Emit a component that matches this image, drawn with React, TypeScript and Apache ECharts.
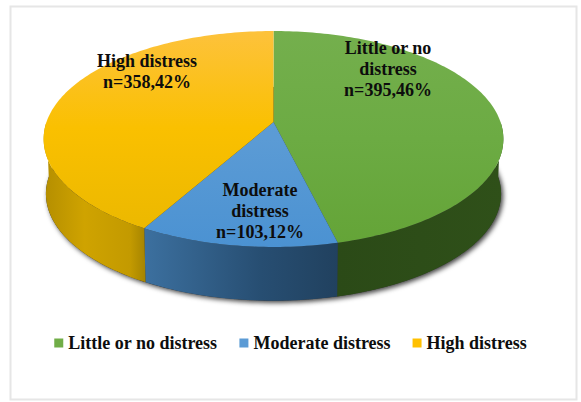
import React, { useEffect, useRef } from "react";
import * as echarts from "echarts";

// Survey responses per distress band
const categories = ["Little or no distress", "Moderate distress", "High distress"];
const counts = [395, 103, 358];
const percents = [46, 12, 42];
const wrappedNames = ["Little or no\ndistress", "Moderate\ndistress", "High distress"];

const WIDTH = 581;
const HEIGHT = 402;
const FONT = '"Liberation Serif", "Times New Roman", serif';
const FONT_SIZE = 18;

// Perspective model of the disc: centre of the pie, radius, foreshortening
const CX = 273.5;
const CY = 122;
const RADIUS = 227;
const DEPTH_SCALE = 105.3;
const PERSPECTIVE = 0.1574;
const THICKNESS = 55;
const BOTTOM_SCALE = 0.99;
const FACE_TOP = 31;
const FACE_BOTTOM = 247;

const legendColors = ["#70ad47", "#5b9bd5", "#ffc000"];
const topStops = [
  [
    [0, "#74af4d"],
    [0.5, "#6cab43"],
    [1, "#64a437"],
  ],
  [
    [0, "#5f9dd6"],
    [0.5, "#5b9bd5"],
    [1, "#4b92d2"],
  ],
  [
    [0, "#fdc23c"],
    [0.45, "#fac000"],
    [1, "#e9b700"],
  ],
];
const sideStops = [
  [
    [0, "#2b4a17"],
    [1, "#2f5019"],
  ],
  [
    [0, "#3c709f"],
    [0.6, "#274e72"],
    [1, "#21415f"],
  ],
  [
    [0, "#a58400"],
    [0.15, "#c39a00"],
    [0.6, "#cfa300"],
    [1, "#b48e00"],
  ],
];
const labelCentres = [
  [388, 69],
  [260, 211],
  [147, 71],
];

const total = counts.reduce((a, b) => a + b, 0);

// Angle is measured clockwise from twelve o'clock
function project(angle: number, radius: number, drop: number): number[] {
  const u = Math.sin(angle);
  const t = -Math.cos(angle);
  const w = 1 - PERSPECTIVE * t;
  return [CX + (radius * RADIUS * u) / w, CY + drop + (radius * DEPTH_SCALE * t) / w];
}

function arc(from: number, to: number, radius: number, drop: number): number[][] {
  const steps = Math.max(2, Math.ceil(Math.abs(to - from) / 0.02));
  const pts: number[][] = [];
  for (let i = 0; i <= steps; i++) {
    pts.push(project(from + ((to - from) * i) / steps, radius, drop));
  }
  return pts;
}

function sliceBounds(index: number): number[] {
  let before = 0;
  for (let i = 0; i < index; i++) before += counts[i];
  const start = (before / total) * Math.PI * 2;
  return [start, start + (counts[index] / total) * Math.PI * 2];
}

function gradientStops(stops: any[]) {
  return stops.map(([offset, color]) => ({ offset, color }));
}

function renderSlice(index: number) {
  const [start, end] = sliceBounds(index);
  const children: any[] = [];
  // The wall is only visible on the half of the disc facing the viewer
  const wallFrom = Math.max(start, Math.PI / 2);
  const wallTo = Math.min(end, (Math.PI * 3) / 2);
  if (wallTo > wallFrom) {
    const upper = arc(wallFrom, wallTo, 1, 0);
    const lower = arc(wallTo, wallFrom, BOTTOM_SCALE, THICKNESS);
    // Shading runs around the disc from the outer rim towards the viewer
    const reversed = index === 2;
    children.push({
      type: "polygon",
      shape: { points: upper.concat(lower) },
      style: {
        fill: new echarts.graphic.LinearGradient(
          reversed ? 1 : 0,
          0,
          reversed ? 0 : 1,
          0,
          gradientStops(sideStops[index]) as any
        ),
      },
      silent: true,
    });
  }
  const rim = arc(start, end, 1, 0);
  const ys = rim.map((p) => p[1]).concat(CY);
  const yMin = Math.min(...ys);
  const yMax = Math.max(...ys);
  children.push({
    type: "polygon",
    shape: { points: [[CX, CY]].concat(rim) },
    style: {
      fill: new echarts.graphic.LinearGradient(
        0,
        (FACE_TOP - yMin) / (yMax - yMin),
        0,
        (FACE_BOTTOM - yMin) / (yMax - yMin),
        gradientStops(topStops[index]) as any
      ),
    },
    silent: true,
  });
  children.push({
    type: "text",
    x: labelCentres[index][0],
    y: labelCentres[index][1],
    silent: true,
    style: {
      text: `${wrappedNames[index]}\nn=${counts[index]},${percents[index]}%`,
      fill: "#0d0d0d",
      font: `bold ${FONT_SIZE}px ${FONT}`,
      lineHeight: 21,
      align: "center",
      verticalAlign: "middle",
    },
  });
  return { type: "group", children };
}

function renderShadow() {
  return {
    type: "polygon",
    shape: { points: arc(0, Math.PI * 2, BOTTOM_SCALE, THICKNESS) },
    silent: true,
    style: {
      fill: "#303030",
      shadowColor: "rgba(0,0,0,0.75)",
      shadowBlur: 5,
      shadowOffsetX: 2,
      shadowOffsetY: 2,
    },
  };
}

export default function App() {
  const ref = useRef<HTMLDivElement>(null);

  useEffect(() => {
    document.body.style.margin = "0";
    const chart = echarts.init(ref.current!, undefined, { renderer: "svg" });
    chart.setOption({
      animation: false,
      backgroundColor: "#ffffff",
      legend: {
        data: categories,
        top: 329,
        left: "center",
        icon: "rect",
        itemWidth: 9,
        itemHeight: 9,
        itemGap: 22,
        textStyle: { fontFamily: FONT, fontWeight: "bold", fontSize: FONT_SIZE, color: "#0d0d0d" },
        selectedMode: false,
      },
      graphic: [
        {
          type: "rect",
          shape: { x: 10.5, y: 6.5, width: 566, height: 393 },
          style: { fill: "none", stroke: "#e6e6e6", lineWidth: 2 },
          silent: true,
        },
      ],
      series: [
        {
          type: "custom",
          name: "Rim shadow",
          coordinateSystem: "none",
          data: [total],
          renderItem: () => renderShadow(),
          silent: true,
        },
        ...categories.map((name, i) => ({
          type: "custom",
          name,
          coordinateSystem: "none",
          data: [counts[i]],
          itemStyle: { color: legendColors[i] },
          renderItem: () => renderSlice(i),
          silent: true,
        })),
      ],
    });
    return () => chart.dispose();
  }, []);

  return <div ref={ref} style={{ width: WIDTH, height: HEIGHT }} />;
}
